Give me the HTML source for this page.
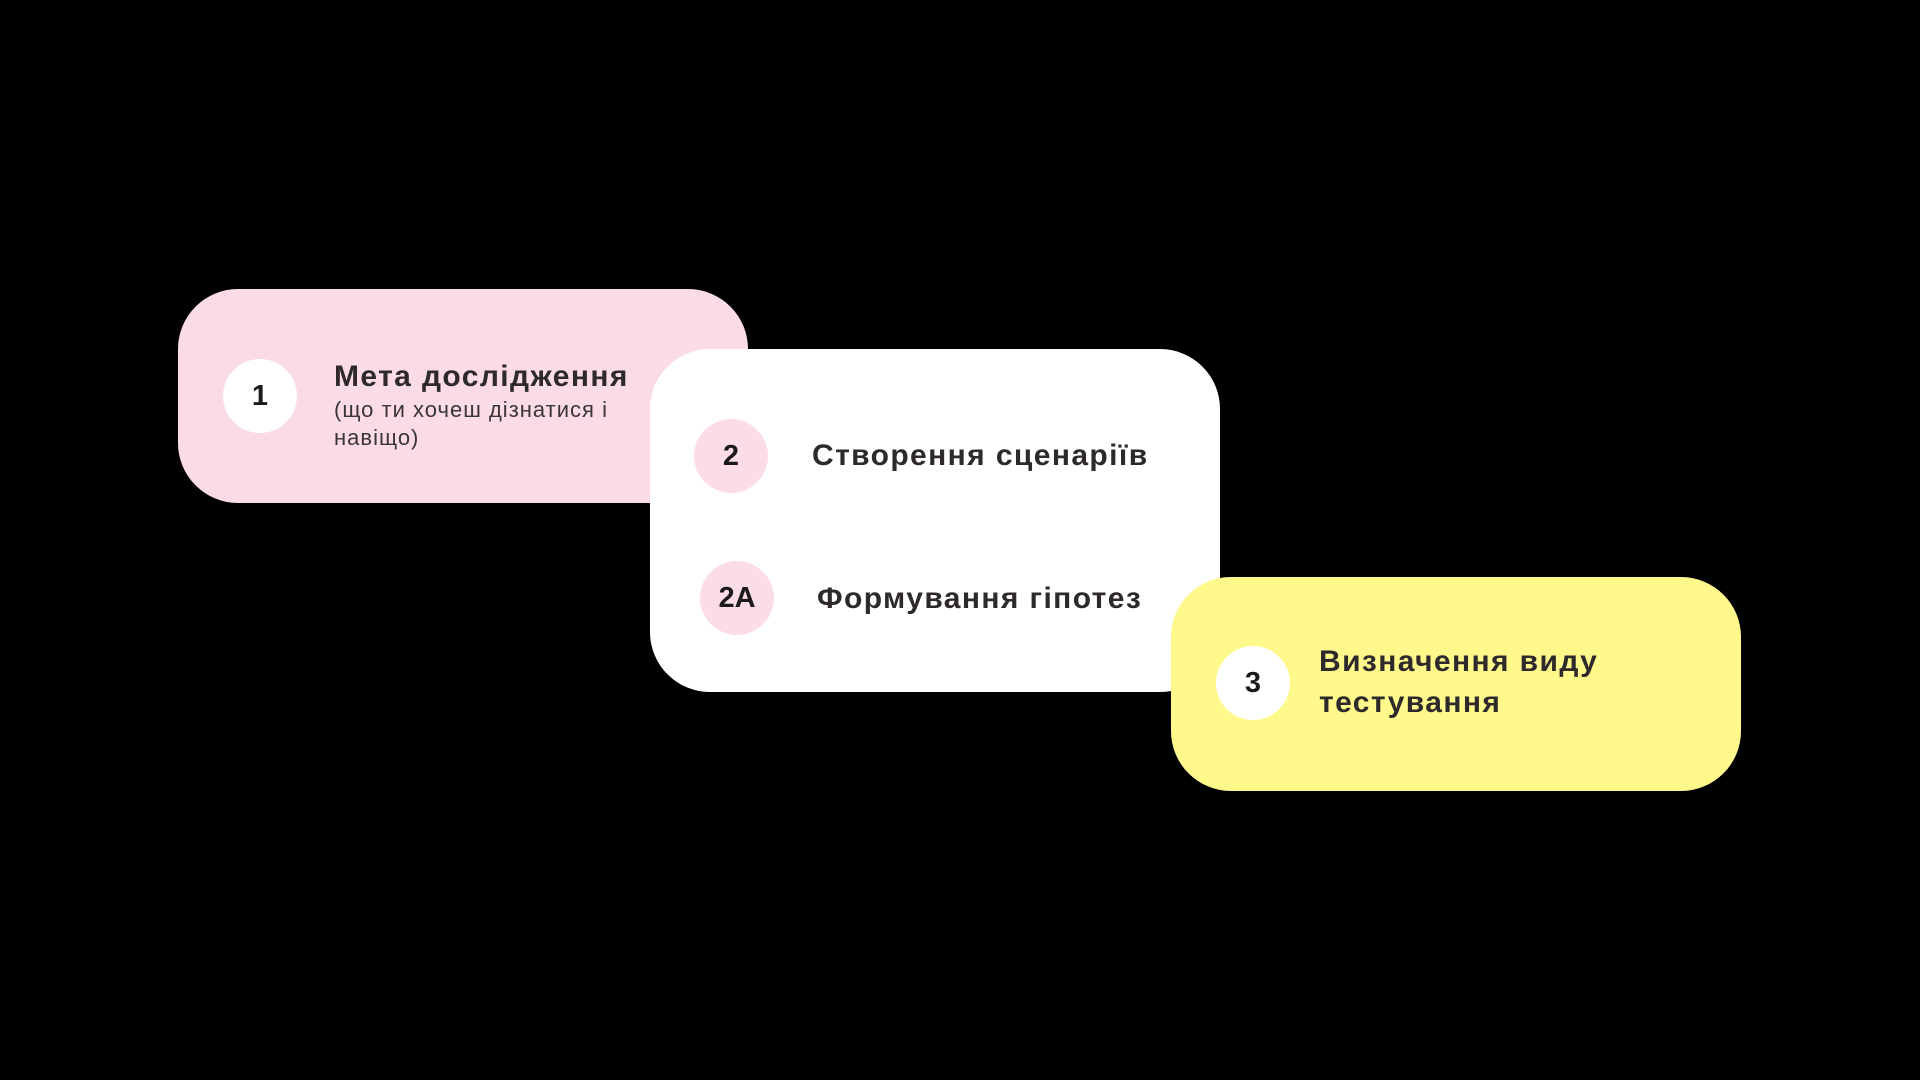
<!DOCTYPE html>
<html><head><meta charset="utf-8"><style>
html,body{margin:0;padding:0;background:#000;width:1920px;height:1080px;overflow:hidden}
body{position:relative;font-family:"Liberation Sans","DejaVu Sans",sans-serif;color:#2e2a2c}
.card{position:absolute;border-radius:60px}
.c{position:absolute;border-radius:50%;width:74px;height:74px;display:flex;align-items:center;justify-content:center;font-weight:bold;font-size:29px;color:#1e1a1c}
.t{position:absolute;font-weight:bold;font-size:30px;white-space:nowrap;letter-spacing:1.4px}
.s{position:absolute;font-size:22px;line-height:28px;color:#3a3537;letter-spacing:1px}
</style></head><body>
<div class="card" style="left:178px;top:289px;width:570px;height:214px;background:#fcdbe8"></div>
<div class="card" style="left:650px;top:349px;width:570px;height:343px;background:#fff"></div>
<div class="card" style="left:1171px;top:577px;width:570px;height:214px;background:#fff98b"></div>

<div class="c" style="left:223px;top:359px;background:#fff">1</div>
<div class="t" style="left:334px;top:360px">Мета дослідження</div>
<div class="s" style="left:334px;top:396px">(що ти хочеш дізнатися і<br>навіщо)</div>

<div class="c" style="left:694px;top:419px;background:#fbdce8">2</div>
<div class="t" style="left:812px;top:439px">Створення сценаріїв</div>
<div class="c" style="left:700px;top:561px;background:#fbdce8">2A</div>
<div class="t" style="left:817px;top:582px">Формування гіпотез</div>

<div class="c" style="left:1216px;top:646px;background:#fff">3</div>
<div class="t" style="left:1319px;top:641px;line-height:41px">Визначення виду<br>тестування</div>
</body></html>
